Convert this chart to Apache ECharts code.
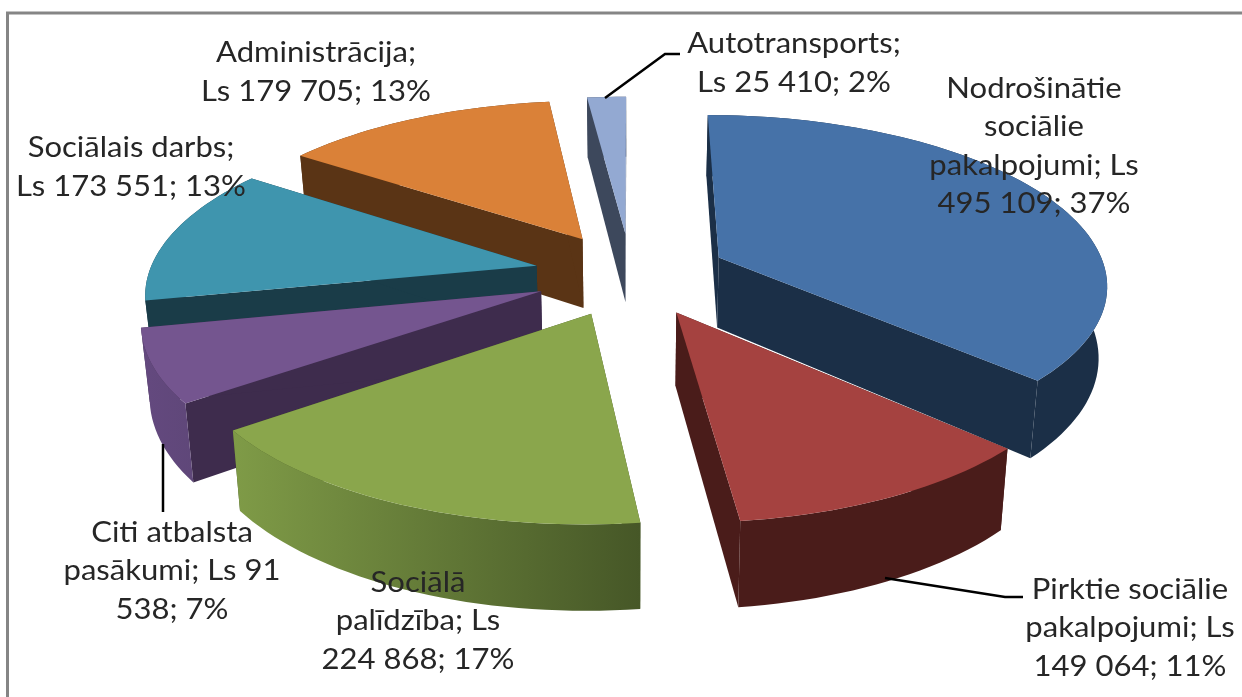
<!DOCTYPE html>
<html><head><meta charset="utf-8">
<style>html,body{margin:0;padding:0;background:#fff}#c{width:1242px;height:697px}</style>
<script src="https://cdn.jsdelivr.net/npm/echarts@6/dist/echarts.min.js"></script>
</head><body><div id="c"></div>
<script>
// DATA
const categories = ['Nodrošinātie sociālie pakalpojumi','Pirktie sociālie pakalpojumi','Sociālā palīdzība','Citi atbalsta pasākumi','Sociālais darbs','Administrācija','Autotransports'];
const values = [495109,149064,224868,91538,173551,179705,25410];
const labelTexts = [
 'Nodrošinātie\nsociālie\npakalpojumi; Ls\n495 109; 37%',
 'Pirktie sociālie\npakalpojumi; Ls\n149 064; 11%',
 'Sociālā\npalīdzība; Ls\n224 868; 17%',
 'Citi atbalsta\npasākumi; Ls 91\n538; 7%',
 'Sociālais darbs;\nLs 173 551; 13%',
 'Administrācija;\nLs 179 705; 13%',
 'Autotransports;\nLs 25 410; 2%'];

// STYLE
const topColors = ['#4672a8','#a54240','#8aa64c','#74558f','#3f95ae','#da8138','#93a9d2'];
const faceColors = ['#1b2f47','#4a1c1a','#445426','#3e2c4d','#1a3c48','#5a3415','#3d485c'];
const rimColors = [['#1b2f47','#1b2f47'],['#4a1c1a','#4a1c1a'],['#7f9b47','#465727'],['#64497f','#5f4779'],['#1a3c48','#1a3c48'],['#5a3415','#5a3415'],['#3d485c','#3d485c']];
const labelPos = [[1034,146],[1130,628],[418,621],[172,571],[131,167],[316,72],[794,63]];
const leaders = [[[605,98],[665,54],[680,54]],[[163,444],[163,512]],[[885,578],[1005,597],[1023,597]]];
const CX=631, CY=274, RX=388, RY=167.5, K=0.1445, E=0.25, H=71, B=0.018;

const total = values.reduce((a,b)=>a+b,0);
const starts=[]; values.reduce((a,v,i)=>{starts[i]=a;return a+v/total*Math.PI*2;},0);
const order = values.map((v,i)=>i).sort((a,b)=>{
  const m=i=>starts[i]+values[i]/total*Math.PI; return Math.cos(m(b))-Math.cos(m(a));});

function proj(X,Z,drop){
  const s=1/(1+K*Z);
  return [CX+RX*X*s*(drop?1-B:1), CY-RY*Z*s+(drop?H*s:0)];
}
function renderItem(params,api){
  const i=api.value(0), v=api.value(1);
  const a0=starts[i], a1=a0+v/total*Math.PI*2, m=(a0+a1)/2;
  const ox=E*Math.sin(m), oz=E*Math.cos(m);
  const rim=(a,d)=>proj(ox+Math.sin(a),oz+Math.cos(a),d);
  const apex=d=>proj(ox,oz,d);
  const arc=[],arcB=[];
  const n=Math.max(4,Math.ceil((a1-a0)/0.03));
  for(let k=0;k<=n;k++){const a=a0+(a1-a0)*k/n;arc.push(rim(a,false));arcB.push(rim(a,true));}
  const children=[];
  const face=a=>({type:'polygon',shape:{points:[apex(false),rim(a,false),rim(a,true),apex(true)]},style:{fill:faceColors[i]}});
  children.push(face(a0),face(a1));
  children.push({type:'polygon',shape:{points:arc.concat(arcB.slice().reverse())},
    style:{fill:new echarts.graphic.LinearGradient(0,0,1,0,[{offset:0,color:rimColors[i][0]},{offset:1,color:rimColors[i][1]}])}});
  children.push({type:'polygon',shape:{points:[apex(false)].concat(arc)},style:{fill:topColors[i]}});
  return {type:'group',children};
}
const graphicEls=[
 {type:'polyline',shape:{points:[[7.5,697],[7.5,13],[1242,13]]},style:{stroke:'#858585',lineWidth:3,fill:null}}
];
leaders.forEach(p=>graphicEls.push({type:'polyline',z:90,shape:{points:p},style:{stroke:'#000',lineWidth:2.5,fill:null}}));
labelTexts.forEach((t,i)=>graphicEls.push({type:'text',z:100,x:labelPos[i][0],y:labelPos[i][1],scaleX:1.07,
 style:{text:t,fill:'#262626',font:'29px Lato',align:'center',verticalAlign:'middle',lineHeight:38.5}}));

const chart=echarts.init(document.getElementById('c'),null,{renderer:'canvas'});
chart.setOption({
  animation:false,backgroundColor:'#fff',
  graphic:{elements:graphicEls},
  series:[{type:'custom',coordinateSystem:'none',renderItem,
    data:order.map(i=>({name:categories[i],value:[i,values[i]]}))}]
});
</script></body></html>
